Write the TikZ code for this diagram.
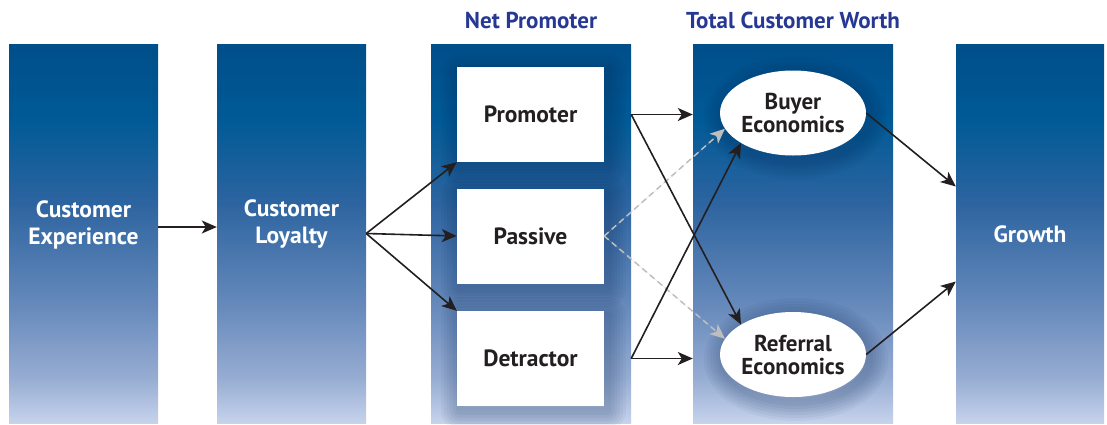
\documentclass[tikz,border=0pt]{standalone}
\usepackage{fontspec}
\setmainfont{PT Sans}
\usetikzlibrary{arrows.meta, positioning, calc, shapes.geometric}

\definecolor{coltop}{RGB}{0, 78, 138}
\definecolor{colhigh}{RGB}{0, 90, 150}
\definecolor{colmid}{RGB}{45, 100, 160}
\definecolor{collow}{RGB}{100, 136, 186}
\definecolor{colpale}{RGB}{150, 172, 210}
\definecolor{colbottom}{RGB}{198, 211, 236}
\definecolor{titleblue}{RGB}{38, 56, 148}
\definecolor{inkgray}{RGB}{35, 31, 32}
\definecolor{shadowblue}{RGB}{5, 35, 80}
\definecolor{dashgray}{RGB}{190, 190, 190}

% column fill, light at the foot, dark at the head
\pgfdeclareverticalshading{colgrad}{100bp}{%
  color(0bp)=(colbottom); color(25bp)=(colbottom); color(31bp)=(colpale); color(41bp)=(collow);
  color(54bp)=(colmid); color(65bp)=(colhigh); color(75bp)=(coltop); color(100bp)=(coltop)}

% soft halo under the white shapes: thick faint strokes, shifted down-right
\tikzset{
  halo/.style={preaction={fill=none, draw=shadowblue, draw opacity=0.045, line width=#1, line join=round,
    transform canvas={xshift=3pt, yshift=-5pt}}},
  boxshadow/.style={halo=38pt, halo=32pt, halo=26pt, halo=20pt, halo=14pt, halo=8pt}
}

\begin{document}
\begin{tikzpicture}[x=1pt, y=-1pt,
  column/.style={shading=colgrad, minimum height=379pt, inner sep=0pt},
  collabel/.style={text=white, font=\bfseries\fontsize{23.5}{27}\selectfont, align=center},
  whitebox/.style={fill=white, minimum width=147pt, minimum height=95pt, inner sep=0pt, text=inkgray, font=\bfseries\fontsize{23.5}{24}\selectfont, boxshadow},
  ecobox/.style={ellipse, fill=white, minimum width=146pt, minimum height=85pt, inner sep=0pt, align=center, text=inkgray, font=\bfseries\fontsize{23}{23}\selectfont, boxshadow},
  heading/.style={text=titleblue, font=\bfseries\fontsize{23}{24}\selectfont},
  arr/.style={-{Stealth[length=15pt, width=13pt, inset=4pt]}, line width=1.6pt, draw=inkgray, fill=inkgray},
  dasharr/.style={-{Stealth[length=15pt, width=13pt, inset=4pt]}, dash pattern=on 6pt off 4pt, line width=1.5pt, draw=dashgray, fill=dashgray}]

  \useasboundingbox (0,0) rectangle (1107,424);

  % the five columns
  \node[column, minimum width=149pt] (cx) at (83.5,233.5) {};
  \node[column, minimum width=149pt] (cl) at (291.5,233.5) {};
  \node[column, minimum width=200pt] (np) at (531,233.5) {};
  \node[column, minimum width=200pt] (tcw) at (793,233.5) {};
  \node[column, minimum width=148pt] (gro) at (1030,233.5) {};

  \node[collabel] (cxtext) at (83.5,224.5) {Customer\\Experience};
  \node[collabel] (cltext) at (291.5,224.5) {Customer\\Loyalty};
  \node[collabel] (grotext) at (1030,234) {Growth};

  \node[heading] (nphead) at (531,20) {Net Promoter};
  \node[heading] (tcwhead) at (793,20) {Total Customer Worth};

  % respondent groups
  \node[whitebox] (prom) at (530.5,114.5) {Promoter};
  \node[whitebox] (pass) at (530.5,236) {Passive};
  \node[whitebox] (det) at (530.5,358.5) {Detractor};

  % economics
  \node[ecobox] (buy) at (793,113) {Buyer\\Economics};
  \node[ecobox] (ref) at (793,354.5) {Referral\\Economics};

  \coordinate (pout) at (np.east |- prom.center);
  \coordinate (dout) at (np.east |- det.center);

  \draw[dasharr] (pass.east) -- (buy.193);
  \draw[dasharr] (pass.east) -- (ref.167);

  \draw[arr] ([yshift=6.5pt]cx.east) -- ([yshift=6.5pt]cl.west);
  \draw[arr] (cl.east) -- (prom.south west);
  \draw[arr] (cl.east) -- (pass.west);
  \draw[arr] (cl.east) -- (det.north west);
  \draw[arr] (pout) -- (tcw.west |- pout);
  \draw[arr] (pout) -- (ref.150);
  \draw[arr] (dout) -- (tcw.west |- dout);
  \draw[arr] (dout) -- (buy.210);
  \draw[arr] (buy.east) -- ($(gro.west)+(0,-47)$);
  \draw[arr] (ref.east) -- ($(gro.west)+(0,48)$);
\end{tikzpicture}
\end{document}
